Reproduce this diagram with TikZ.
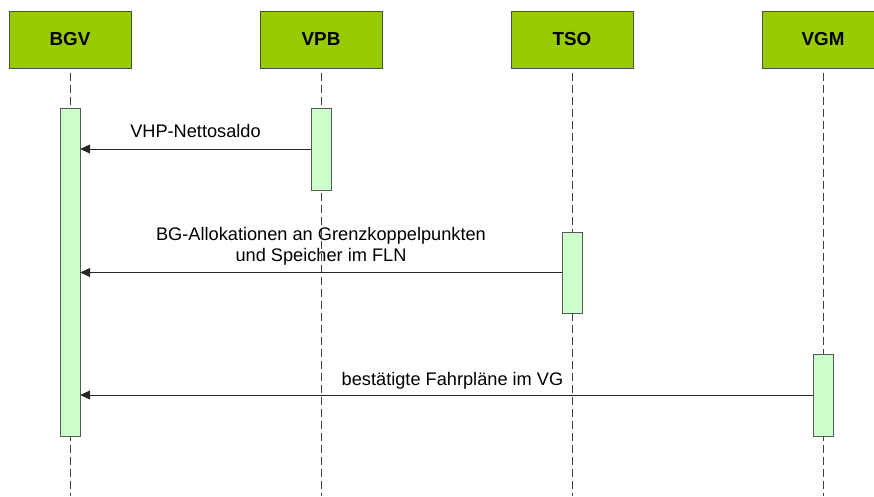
\documentclass[tikz,border=0pt]{standalone}
\usepackage{fontspec}
\setmainfont{Liberation Sans}
\usepackage{xcolor}
\usetikzlibrary{arrows.meta}

\definecolor{headgreen}{HTML}{99CC00}
\definecolor{actgreen}{HTML}{CCFFCC}

\begin{document}
\begin{tikzpicture}[x=1pt,y=-1pt,
        head/.style={draw=black!70, fill=headgreen, minimum width=122pt, minimum height=57pt, inner sep=0pt, font=\fontsize{18.8}{22}\selectfont\bfseries},
        actbar/.style={draw=black!65, fill=actgreen, minimum width=20pt, inner sep=0pt},
        life/.style={black!75, line width=0.8pt, dash pattern=on 8pt off 4pt},
        msg/.style={black!85, line width=1pt, -{Triangle[length=10pt,width=9pt]}},
        lbl/.style={text=black, font=\fontsize{18.2}{21}\selectfont, align=center}]
        \useasboundingbox (0,0) rectangle (874,496);
        \clip (0,0) rectangle (874,496);

        % Participants
        \node[head] (bgv) at (70,39.5) {BGV};
        \node[head] (vpb) at (321,39.5) {VPB};
        \node[head] (tso) at (572,39.5) {TSO};
        \node[head] (vgm) at (823,39.5) {VGM};

        % Lifelines
        \draw[life] ([yshift=-5pt]bgv.south) -- (bgv.south |- 0,496);
        \draw[life] ([yshift=-5pt]vpb.south) -- (vpb.south |- 0,496);
        \draw[life] ([yshift=-5pt]tso.south) -- (tso.south |- 0,496);
        \draw[life] ([yshift=-5pt]vgm.south) -- (vgm.south |- 0,496);

        % Activations
        \node[actbar, minimum height=328pt] (bgvact) at (70,272) {};
        \node[actbar, minimum height=82pt] (vpbact) at (321,149) {};
        \node[actbar, minimum height=81pt] (tsoact) at (572,272.5) {};
        \node[actbar, minimum height=82pt] (vgmact) at (823,395) {};

        % Messages
        \draw[msg] (vpbact.west) -- (bgvact.east |- vpbact.west)
            node[lbl, midway, above=7.5pt] {VHP-Nettosaldo};
        \draw[msg] (tsoact.west) -- (bgvact.east |- tsoact.west)
            node[lbl, midway, above=3pt] {BG-Allokationen an Grenzkoppelpunkten\\und Speicher im FLN};
        \draw[msg] (vgmact.west) -- (bgvact.east |- vgmact.west)
            node[lbl, midway, above=1.5pt, xshift=6pt] {bestätigte Fahrpläne im VG};

    \end{tikzpicture}
\end{document}
